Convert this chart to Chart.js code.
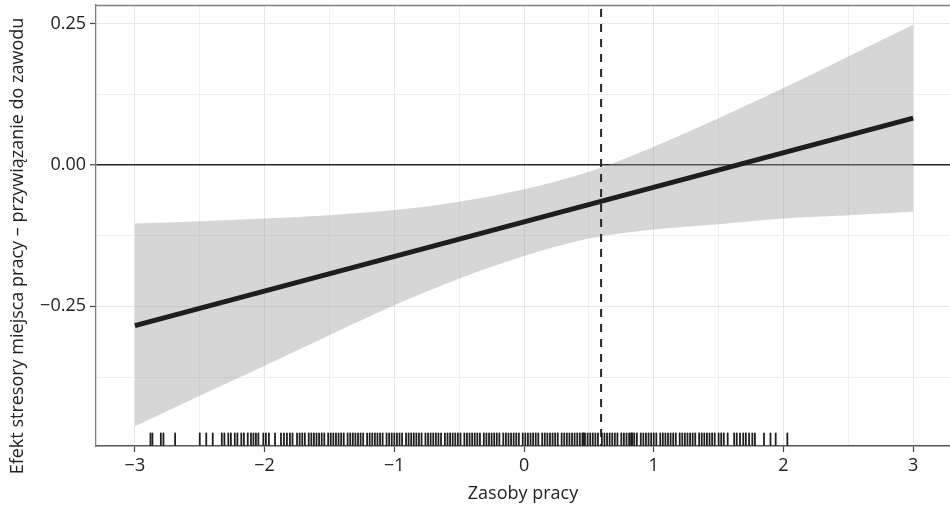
<!DOCTYPE html>
<html>
<head>
<meta charset="utf-8">
<script src="https://cdn.jsdelivr.net/npm/chart.js@4.4.1/dist/chart.umd.min.js"></script>
<style>
  html, body { margin: 0; padding: 0; background: #ffffff; }
  #wrap { width: 950px; height: 508px; }
</style>
</head>
<body>
<div id="wrap"><canvas id="c" width="950" height="508"></canvas></div>
<script>
// ---- data ----
const X_TICKS = [-3, -2, -1, 0, 1, 2, 3];
const X_TICK_LABELS = ['\u22123', '\u22122', '\u22121', '0', '1', '2', '3'];
const Y_TICKS = [0.25, 0, -0.25];
const Y_TICK_LABELS = ['0.25', '0.00', '\u22120.25'];

const X_TITLE = 'Zasoby pracy';
const Y_TITLE = 'Efekt stresory miejsca pracy \u2013 przywi\u0105zanie do zawodu';

const FIT_X = [-3, 3];
const FIT_Y = [-0.284, 0.083];

const BAND_X = [-3, -2.5, -2, -1.5, -1, -0.5, 0, 0.5, 1, 1.5, 2, 2.5, 3];
const BAND_UPPER = [-0.1035, -0.0993, -0.0946, -0.0887, -0.0798, -0.065, -0.043, -0.012, 0.0325, 0.0828, 0.136, 0.192, 0.248];
const BAND_LOWER = [-0.462, -0.408, -0.355, -0.301, -0.248, -0.201, -0.161, -0.130, -0.114, -0.1046, -0.0945, -0.0887, -0.0828];

const VLINE_X = 0.594;
const ZERO_Y = 0;

const RUG_X = [
  -2.88, -2.865, -2.80, -2.78, -2.69, -2.50, -2.45, -2.40,
  -2.33, -2.31, -2.28, -2.26, -2.23, -2.21, -2.18, -2.16, -2.13,
  -2.105, -2.086, -2.067, -2.048, -2.01, -1.99, -1.967, -1.92,
  -1.874, -1.851, -1.828, -1.805, -1.785,
  -1.75, -1.73, -1.71, -1.69, -1.66, -1.64, -1.62, -1.60, -1.58, -1.56, -1.54, -1.51,
  -1.49, -1.47, -1.45, -1.43, -1.41, -1.39, -1.36, -1.34, -1.32, -1.30, -1.28, -1.26,
  -1.24, -1.21, -1.19, -1.17, -1.15, -1.13, -1.11, -1.09, -1.06, -1.04, -1.02, -1.00,
  -0.98, -0.96, -0.94, -0.91, -0.89, -0.87, -0.85, -0.83, -0.81, -0.79, -0.76, -0.74,
  -0.72, -0.70, -0.68, -0.66, -0.64, -0.61, -0.59, -0.57, -0.55, -0.53, -0.51, -0.49,
  -0.46, -0.44, -0.42, -0.40, -0.38, -0.36, -0.34, -0.31, -0.29, -0.27, -0.25, -0.23,
  -0.21, -0.19, -0.16, -0.14, -0.12, -0.10, -0.08, -0.06, -0.04, -0.01, 0.01, 0.03,
  0.05, 0.07, 0.09, 0.11, 0.14, 0.16, 0.18, 0.20, 0.22, 0.24, 0.26, 0.29, 0.31, 0.33,
  0.35, 0.37, 0.39, 0.41, 0.43, 0.45, 0.455, 0.46, 0.47, 0.49, 0.51, 0.53, 0.55, 0.57,
  0.60, 0.62, 0.64, 0.66, 0.68, 0.70, 0.72, 0.75, 0.77, 0.79, 0.81, 0.825, 0.83, 0.835,
  0.85, 0.87, 0.90, 0.92, 0.94, 0.96, 0.98, 1.00, 1.02, 1.05, 1.07, 1.09, 1.11, 1.13,
  1.15, 1.17, 1.20, 1.22, 1.24, 1.26, 1.28, 1.30, 1.32, 1.35, 1.37, 1.39, 1.41, 1.43,
  1.45, 1.47, 1.50, 1.52, 1.54, 1.57,
  1.62, 1.64, 1.665, 1.69, 1.71, 1.735, 1.76, 1.78,
  1.85, 1.90, 1.94, 2.03
];

// axis limits (ggplot-style expanded ranges)
const X_MIN = -3.30, X_MAX = 3.284;
const Y_MIN = -0.497, Y_MAX = 0.283;

// ---- helpers ----
const FONT = '"Open Sans", "DejaVu Sans", sans-serif';
const xy = (xs, ys) => xs.map((x, i) => ({ x: x, y: ys[i] }));
const rugY = Y_MIN + 0.0155 * (Y_MAX - Y_MIN);
const xMinor = [-2.5, -1.5, -0.5, 0.5, 1.5, 2.5];
const yMinor = [0.125, -0.125, -0.375];

const framePlugin = {
  id: 'frame',
  afterDraw(chart) {
    const { ctx, chartArea } = chart;
    ctx.save();
    // top panel border
    ctx.strokeStyle = '#7f7f7f';
    ctx.lineWidth = 1.3;
    ctx.beginPath();
    ctx.moveTo(chartArea.left, chartArea.top + 0.5);
    ctx.lineTo(chartArea.right, chartArea.top + 0.5);
    ctx.stroke();
    // y title (rotated)
    ctx.fillStyle = '#222222';
    ctx.font = '18px ' + FONT;
    ctx.textAlign = 'center';
    ctx.textBaseline = 'middle';
    ctx.translate(17.5, 246);
    ctx.rotate(-Math.PI / 2);
    ctx.fillText(Y_TITLE, 0, 0);
    ctx.restore();
  }
};

function zeroPad(s) {
  s.paddingLeft = 0; s.paddingRight = 0; s.paddingTop = 0; s.paddingBottom = 0;
}

new Chart(document.getElementById('c'), {
  type: 'line',
  data: {
    datasets: [
      {
        label: 'fit',
        data: xy(FIT_X, FIT_Y),
        borderColor: '#1e1e1e',
        borderWidth: 5,
        pointRadius: 0,
        fill: false,
        tension: 0
      },
      {
        label: 'rug',
        data: RUG_X.map(x => ({ x: x, y: rugY })),
        showLine: false,
        pointStyle: 'line',
        rotation: 90,
        pointRadius: 6.5,
        pointBorderWidth: 1.8,
        pointBorderColor: '#1f1f1f',
        pointBackgroundColor: '#1f1f1f',
        pointHoverRadius: 6.5
      },
      {
        label: 'vline',
        data: [{ x: VLINE_X, y: Y_MIN }, { x: VLINE_X, y: Y_MAX }],
        borderColor: '#262626',
        borderWidth: 2,
        borderDash: [8, 7],
        borderDashOffset: -9,
        pointRadius: 0,
        fill: false
      },
      {
        label: 'upper',
        data: xy(BAND_X, BAND_UPPER),
        borderWidth: 0,
        borderColor: 'rgba(0,0,0,0)',
        backgroundColor: 'rgba(153,153,153,0.4)',
        pointRadius: 0,
        fill: '+1',
        cubicInterpolationMode: 'monotone'
      },
      {
        label: 'lower',
        data: xy(BAND_X, BAND_LOWER),
        borderWidth: 0,
        borderColor: 'rgba(0,0,0,0)',
        pointRadius: 0,
        fill: false,
        cubicInterpolationMode: 'monotone'
      }
    ]
  },
  options: {
    responsive: false,
    animation: false,
    events: [],
    layout: { autoPadding: false, padding: { top: 5, left: 0, right: 0, bottom: 0 } },
    plugins: {
      legend: { display: false },
      tooltip: { enabled: false },
      title: { display: false }
    },
    scales: {
      x: {
        type: 'linear',
        min: X_MIN,
        max: X_MAX,
        afterFit(s) { s.height = 62; zeroPad(s); },
        afterBuildTicks(s) {
          s.ticks = X_TICKS.concat(xMinor).sort((a, b) => a - b).map(v => ({ value: v }));
        },
        ticks: {
          autoSkip: false,
          maxRotation: 0,
          padding: 3,
          color: '#222222',
          font: { family: FONT, size: 18 },
          callback(v) {
            const i = X_TICKS.indexOf(v);
            return i >= 0 ? X_TICK_LABELS[i] : '';
          }
        },
        grid: {
          color: ctx => (ctx.tick && X_TICKS.includes(ctx.tick.value)) ? '#e6e6e6' : '#efefef',
          lineWidth: 1,
          tickLength: 6,
          tickColor: ctx => (ctx.tick && X_TICKS.includes(ctx.tick.value)) ? '#444444' : 'rgba(0,0,0,0)',
          tickWidth: 1.2
        },
        border: { display: true, color: '#555555', width: 1.5 },
        title: {
          display: true,
          text: X_TITLE,
          color: '#222222',
          font: { family: FONT, size: 18 },
          padding: { top: 0, bottom: 3 }
        }
      },
      y: {
        type: 'linear',
        min: Y_MIN,
        max: Y_MAX,
        afterFit(s) { s.width = 96; zeroPad(s); },
        afterBuildTicks(s) {
          s.ticks = Y_TICKS.concat(yMinor).sort((a, b) => a - b).map(v => ({ value: v }));
        },
        ticks: {
          autoSkip: false,
          padding: 4,
          color: '#222222',
          font: { family: FONT, size: 18 },
          callback(v) {
            const i = Y_TICKS.indexOf(v);
            return i >= 0 ? Y_TICK_LABELS[i] : '';
          }
        },
        grid: {
          color: ctx => {
            if (!ctx.tick) return '#e6e6e6';
            if (ctx.tick.value === ZERO_Y) return '#262626';
            return Y_TICKS.includes(ctx.tick.value) ? '#e6e6e6' : '#efefef';
          },
          lineWidth: ctx => (ctx.tick && ctx.tick.value === ZERO_Y) ? 1.6 : 1,
          tickLength: 6,
          tickColor: ctx => (ctx.tick && Y_TICKS.includes(ctx.tick.value)) ? '#444444' : 'rgba(0,0,0,0)',
          tickWidth: 1.2
        },
        border: { display: true, color: '#7f7f7f', width: 1.3 }
      }
    }
  },
  plugins: [framePlugin]
});
</script>
</body>
</html>
